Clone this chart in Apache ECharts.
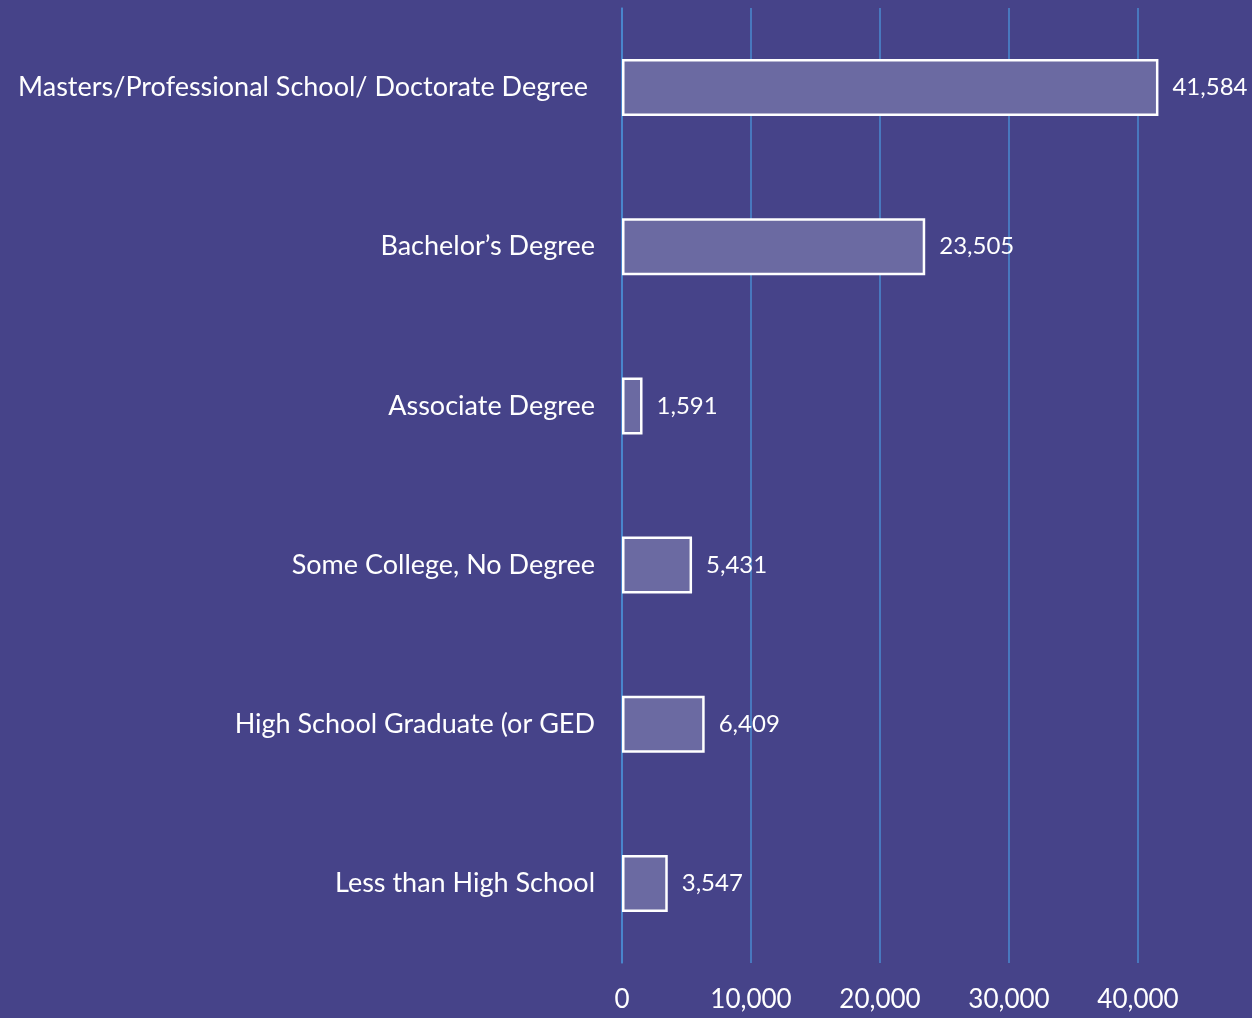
<!DOCTYPE html>
<html><head><meta charset="utf-8">
<script src="https://cdn.jsdelivr.net/npm/echarts@6/dist/echarts.min.js"></script>
<style>html,body{margin:0;padding:0;background:#464389;}#c{width:1252px;height:1018px;}</style>
</head><body><div id="c"></div>
<script>
const categories = ["Less than High School","High School Graduate (or GED","Some College, No Degree","Associate Degree","Bachelor\u2019s Degree","Masters/Professional School/ Doctorate Degree"];
const values = [3547, 6409, 5431, 1591, 23505, 41584];
const ticks = [0, 10000, 20000, 30000, 40000];
const fmt = v => v.toLocaleString('en-US');
const chart = echarts.init(document.getElementById('c'));
chart.setOption({
  backgroundColor: '#464389',
  animation: false,
  grid: {left: 622, top: 8, bottom: 55, right: 114, containLabel: false},
  xAxis: {
    type: 'value', min: 0, max: 40000, interval: 10000,
    axisLine: {show: false}, axisTick: {show: false},
    splitLine: {show: true, lineStyle: {color: '#4a8ad0', width: 1.5}},
    axisLabel: {color: '#ffffff', fontFamily: 'Lato', fontSize: 26, margin: 24,
      formatter: v => fmt(v)}
  },
  yAxis: {
    type: 'category',
    data: categories.map((c, i) => i === categories.length - 1 ? {value: c, textStyle: {padding: [0, 7, 0, 0]}} : c),
    axisLine: {show: true, lineStyle: {color: '#4a8ad0', width: 1.5}}, axisTick: {show: false},
    axisLabel: {color: '#ffffff', fontFamily: 'Lato', fontSize: 27, margin: 27}
  },
  series: [{
    type: 'bar', data: values, barWidth: 57, clip: false,
    itemStyle: {color: '#6b6aa2', borderColor: '#ffffff', borderWidth: 2.5},
    label: {show: true, position: 'right', distance: 14, color: '#ffffff', fontFamily: 'Lato', fontSize: 24,
      formatter: p => fmt(p.value)}
  }]
});
</script></body></html>
